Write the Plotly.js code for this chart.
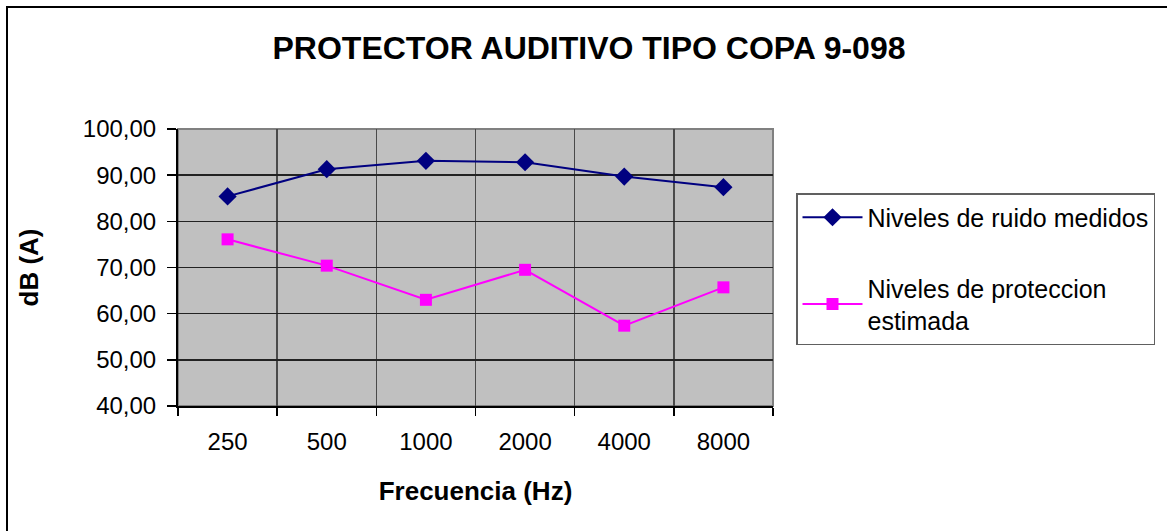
<!DOCTYPE html>
<html>
<head>
<meta charset="utf-8">
<script src="https://cdn.plot.ly/plotly-3.0.1.min.js"></script>
<style>
  html, body { margin: 0; padding: 0; background: #ffffff; }
  #chart { width: 1167px; height: 531px; }
</style>
</head>
<body>
<div id="chart"></div>
<script>
// Frequency bands (Hz)
const frecuencias = ['250', '500', '1000', '2000', '4000', '8000'];
// Measured noise levels, dB(A)
const ruidoMedido = [85.4, 91.3, 93.1, 92.8, 89.7, 87.4];
// Estimated protected levels, dB(A)
const proteccionEstimada = [76.1, 70.4, 63.0, 69.5, 57.4, 65.7];

const fontFamily = '"Liberation Sans", Arial, sans-serif';

const traces = [
  {
    x: frecuencias,
    y: ruidoMedido,
    name: 'Niveles de ruido medidos',
    legendgroup: 'g1',
    type: 'scatter',
    mode: 'lines+markers',
    line: { color: '#000080', width: 2 },
    marker: { symbol: 'diamond', size: 14, color: '#000080' }
  },
  {
    x: frecuencias,
    y: proteccionEstimada,
    name: 'Niveles de proteccion<br>estimada',
    legendgroup: 'g2',
    type: 'scatter',
    mode: 'lines+markers',
    line: { color: '#ff00ff', width: 2 },
    marker: { symbol: 'square', size: 12, color: '#ff00ff' }
  }
];

// Vertical grid lines through each category centre
const centreLines = frecuencias.map(f => ({
  type: 'line', xref: 'x', yref: 'y domain',
  x0: f, x1: f, y0: 0, y1: 1,
  line: { color: '#4a4a4a', width: 1.5 },
  layer: 'below'
}));

const plotL = 178, plotR = 773, plotT = 129, plotB = 406;
const W = 1167, H = 531;
const pw = plotR - plotL, ph = plotB - plotT;

const shapes = centreLines.concat([
  // grey frame on top/right of plot area
  {
    type: 'rect', xref: 'paper', yref: 'paper',
    x0: 0, x1: 1, y0: 0, y1: 1,
    line: { color: '#808080', width: 2 },
    layer: 'below'
  },
  // outer chart border (runs off the right and bottom edges)
  {
    type: 'rect', xref: 'paper', yref: 'paper',
    x0: (7 - plotL) / pw, x1: (W + 20 - plotL) / pw,
    y0: (plotB - (H + 20)) / ph, y1: (plotB - 7) / ph,
    line: { color: '#000000', width: 2 }
  }
]);

const layout = {
  width: W,
  height: H,
  margin: { l: plotL, r: W - plotR, t: plotT, b: H - plotB, pad: 0 },
  paper_bgcolor: '#ffffff',
  plot_bgcolor: '#c0c0c0',
  separators: ',.',
  font: { family: fontFamily, color: '#000000', size: 24 },
  title: {
    text: '<b>PROTECTOR AUDITIVO TIPO COPA 9-098</b>',
    font: { family: fontFamily, size: 32, color: '#000000' },
    x: 589 / W, xref: 'container', xanchor: 'center',
    y: 1 - 48 / H, yref: 'container', yanchor: 'middle'
  },
  xaxis: {
    type: 'category',
    range: [-0.5, 5.5],
    tickson: 'boundaries',
    ticks: 'outside',
    ticklen: 8,
    tickwidth: 1.5,
    tickcolor: '#000000',
    ticklabelstandoff: 13,
    showgrid: true,
    gridcolor: '#4a4a4a',
    gridwidth: 1.5,
    showline: true,
    linecolor: '#000000',
    linewidth: 2,
    zeroline: false,
    tickfont: { family: fontFamily, size: 24 },
    title: {
      text: '<b>Frecuencia (Hz)</b>',
      font: { family: fontFamily, size: 26 },
      standoff: 28
    }
  },
  yaxis: {
    range: [40, 100],
    tick0: 40,
    dtick: 10,
    tickformat: '.2f',
    ticks: 'outside',
    ticklen: 9,
    tickwidth: 1.5,
    tickcolor: '#000000',
    ticklabelstandoff: 6,
    showgrid: true,
    gridcolor: '#222222',
    gridwidth: 1.5,
    showline: true,
    linecolor: '#000000',
    linewidth: 2,
    zeroline: false,
    tickfont: { family: fontFamily, size: 24 },
    title: {
      text: '<b>dB (A)</b>',
      font: { family: fontFamily, size: 26 },
      standoff: 37
    }
  },
  showlegend: true,
  legend: {
    x: (796 - plotL) / pw,
    xanchor: 'left',
    y: (plotB - 193) / ph,
    yanchor: 'top',
    bgcolor: '#ffffff',
    bordercolor: '#606060',
    borderwidth: 1.5,
    traceorder: 'grouped',
    tracegroupgap: 35,
    font: { family: fontFamily, size: 25, color: '#000000' },
    itemwidth: 60
  },
  shapes: shapes
};

Plotly.newPlot('chart', traces, layout, { displayModeBar: false, staticPlot: true });
</script>
</body>
</html>
